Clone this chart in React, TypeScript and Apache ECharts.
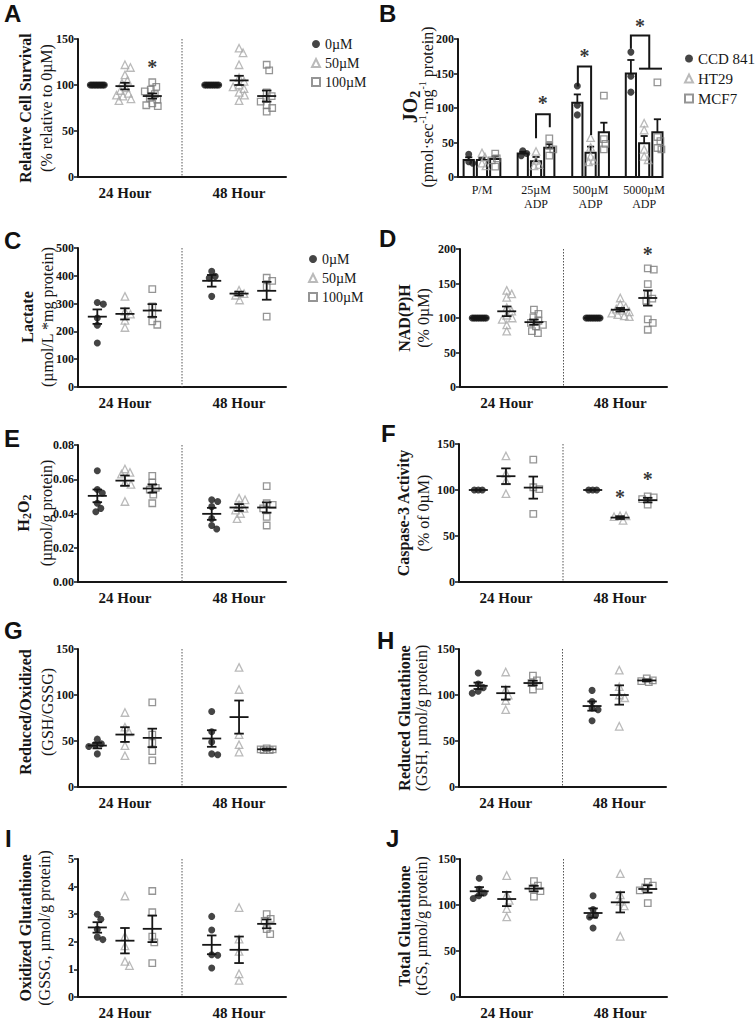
import React, { useEffect, useRef } from "react";
import * as echarts from "echarts";

const SERIF = "Liberation Serif, Times New Roman, serif";
const SANS = "Liberation Sans, Arial, sans-serif";
const INK = "#161616";

const DOSES = ["0µM", "50µM", "100µM"];
const TIMES = ["24 Hour", "48 Hour"];
const CELLS = ["CCD 841", "HT29", "MCF7"];
const B_LABELS = ["P/M", "25µM\nADP", "500µM\nADP", "5000µM\nADP"];

// ---------- Panel A : relative cell survival ----------
const A_24H = [
  [100, 100, 100, 100, 100, 100, 100, 100, 100, 100],
  [122, 119, 111, 105, 102, 97, 94, 91, 89, 88, 85, 83],
  [103, 98, 95, 93, 90, 86, 84, 80, 78, 77],
];
const A_48H = [
  [100, 100, 100, 100, 100, 100, 100, 100, 100],
  [140, 135, 122, 108, 104, 100, 98, 96, 92, 89, 83],
  [122, 116, 92, 88, 85, 82, 78, 75, 71],
];
const A_MEAN = [100, 98.8, 88, 100, 105, 88];
const A_SEM = [0, 3.6, 2.8, 0, 5, 6];
const A_STARS = [[2.5, 123]];

// ---------- Panel B : JO2 ----------
const B_CCD = [[33, 22, 20], [38, 34, 31], [132, 104, 90], [181, 146, 123]];
const B_HT29 = [[35, 29, 20, 16], [37, 24, 18, 16], [57, 43, 30, 24, 22], [78, 68, 40, 30, 25]];
const B_MCF7 = [[34, 27, 24, 15], [56, 45, 40, 31], [118, 55, 48, 40], [137, 58, 52, 42, 40]];
const B_MEAN = [[24.6, 24.6, 26], [34, 23, 42.5], [107.7, 35, 64.7], [150, 48.8, 64.7]];
const B_SEM = [[4, 3, 4], [2.5, 6, 5], [12, 9, 14], [19.6, 10.6, 19]];
const B_BRACKETS = [
  [1.53, 1.8, 91, 56, 72],
  [2.35, 2.61, 160, 131, 61],
  [3.39, 3.75, 205, 186, 157],
];
const B_CROSSBAR = [[3.55, 4.0, 157]];
const B_STARS = [[1.66, 112], [2.48, 179], [3.57, 223]];

// ---------- Panel C : lactate ----------
const C_24H = [[304, 298, 248, 222, 158], [326, 272, 262, 240, 214], [352, 290, 266, 236, 224]];
const C_48H = [[416, 398, 392, 326], [348, 336, 330, 313], [393, 382, 360, 253]];
const C_MEAN = [253, 263, 275, 382, 336, 346];
const C_SEM = [26, 20, 23, 21, 7, 32];

// ---------- Panel D : NAD(P)H ----------
const D_24H = [
  [100, 100, 100, 100, 100, 100, 100, 100, 100],
  [140, 135, 130, 115, 110, 104, 100, 98, 90, 81],
  [112, 106, 101, 96, 93, 90, 88, 81, 78],
];
const D_48H = [
  [100, 100, 100, 100, 100, 100, 100, 100, 100],
  [129, 120, 116, 113, 111, 109, 107, 105, 103, 102],
  [172, 170, 149, 134, 128, 125, 98, 93, 83],
];
const D_MEAN = [100, 109.7, 94, 100, 112, 129];
const D_SEM = [0, 7, 3.8, 0, 2.5, 11];
const D_STARS = [[6.35, 197]];

// ---------- Panel E : H2O2 ----------
const E_24H = [
  [0.065, 0.054, 0.052, 0.046, 0.043, 0.041],
  [0.066, 0.064, 0.063, 0.058, 0.057, 0.047],
  [0.062, 0.058, 0.055, 0.054, 0.051, 0.046],
];
const E_48H = [
  [0.048, 0.047, 0.044, 0.037, 0.033, 0.031],
  [0.049, 0.048, 0.045, 0.043, 0.042, 0.04, 0.037],
  [0.056, 0.046, 0.045, 0.043, 0.038, 0.033],
];
const E_MEAN = [0.0503, 0.0592, 0.0546, 0.0398, 0.0435, 0.0435];
const E_SEM = [0.0037, 0.003, 0.0024, 0.0035, 0.002, 0.003];

// ---------- Panel F : caspase-3 ----------
const F_24H = [[100, 100, 100], [137, 118, 110, 96], [133, 103, 101, 74]];
const F_48H = [[100, 100, 100], [72, 72, 71, 67], [93, 92, 90, 84]];
const F_MEAN = [100, 115, 102.6, 100, 70, 89];
const F_SEM = [0, 8.5, 12, 0, 1.5, 2.5];
const F_STARS = [[5.42, 96], [6.35, 115]];

// ---------- Panel G : GSH/GSSG ----------
const G_24H = [[52, 47, 46, 44, 36], [81, 65, 60, 45, 34], [92, 57, 48, 39, 29]];
const G_48H = [[82, 60, 49, 36, 35], [130, 106, 57, 46, 38], [42, 41, 41, 40, 40]];
const G_MEAN = [45, 57, 53.4, 52.7, 76, 41];
const G_SEM = [3, 8, 10, 9, 18, 0.6];

// ---------- Panel H : reduced glutathione ----------
const H_24H = [[124, 112, 108, 104, 102], [125, 106, 100, 94, 84], [121, 116, 113, 110, 106]];
const H_48H = [[105, 93, 86, 84, 72], [127, 109, 100, 97, 66], [118, 116, 115, 114]];
const H_MEAN = [110, 102, 113, 88, 100, 115.8];
const H_SEM = [3.5, 7, 2.5, 5, 10.5, 1];

// ---------- Panel I : oxidized glutathione ----------
const I_24H = [[3.0, 2.82, 2.45, 2.17, 2.08], [3.66, 2.2, 1.85, 1.29, 1.14], [3.84, 3.07, 2.19, 1.98, 1.23]];
const I_48H = [[2.92, 2.43, 1.53, 1.51, 1.05], [3.24, 2.1, 1.65, 0.84, 0.6], [3.0, 2.83, 2.76, 2.46, 2.28]];
const I_MEAN = [2.52, 2.04, 2.47, 1.89, 1.71, 2.65];
const I_SEM = [0.19, 0.46, 0.48, 0.34, 0.48, 0.16];

// ---------- Panel J : total glutathione ----------
const J_24H = [[129, 117, 113, 110, 107], [132, 111, 105, 96, 87], [126, 121, 118, 115, 109]];
const J_48H = [[110, 95, 89, 87, 75], [134, 111, 104, 99, 66], [125, 121, 119, 116, 102]];
const J_MEAN = [114.9, 106.5, 117.8, 91.3, 102.9, 117.4];
const J_SEM = [4.5, 7.7, 3, 5, 11, 4];

// ---------- positions on the x scales ----------
const GROUP_X = [0.65, 1.58, 2.5, 4.5, 5.42, 6.35];
const TIME_X = [1.58, 5.42];
const DIVIDER_X = 3.5;
const X_MAX = 7;
const B_GROUP_X = [0.47, 1.53, 2.6, 3.65];
const B_BAR_STEP = 0.26;
const B_X_MAX = 4;

const MEAN_HALF = 0.32;
const CAP_HALF = 0.16;
const BAR_HALF = 0.1;
const B_CAP_HALF = 0.07;

const MARKERS: any[] = [
  { symbol: "circle", symbolSize: 7, itemStyle: { color: INK } },
  { symbol: "triangle", symbolSize: 7.5, itemStyle: { color: "rgba(255,255,255,0)", borderColor: "#a9a9a9", borderWidth: 1.3 } },
  { symbol: "rect", symbolSize: 6.5, itemStyle: { color: "rgba(255,255,255,0)", borderColor: "#7b7b7b", borderWidth: 1.3 } },
];

const DOT_PANELS: any[] = [
  { key: "A", grid: { left: 78, top: 39, width: 208, height: 138 }, v24: A_24H, v48: A_48H, mean: A_MEAN, sem: A_SEM, max: 150, step: 50, stars: A_STARS, dec: 0 },
  { key: "C", grid: { left: 78, top: 248, width: 208, height: 139 }, v24: C_24H, v48: C_48H, mean: C_MEAN, sem: C_SEM, max: 500, step: 100, stars: [], dec: 0 },
  { key: "D", grid: { left: 460, top: 249, width: 207, height: 138 }, v24: D_24H, v48: D_48H, mean: D_MEAN, sem: D_SEM, max: 200, step: 50, stars: D_STARS, dec: 0 },
  { key: "E", grid: { left: 78, top: 445, width: 208, height: 137 }, v24: E_24H, v48: E_48H, mean: E_MEAN, sem: E_SEM, max: 0.08, step: 0.02, stars: [], dec: 2 },
  { key: "F", grid: { left: 459, top: 444, width: 208, height: 138 }, v24: F_24H, v48: F_48H, mean: F_MEAN, sem: F_SEM, max: 150, step: 50, stars: F_STARS, dec: 0 },
  { key: "G", grid: { left: 78, top: 649, width: 208, height: 138 }, v24: G_24H, v48: G_48H, mean: G_MEAN, sem: G_SEM, max: 150, step: 50, stars: [], dec: 0 },
  { key: "H", grid: { left: 459, top: 649, width: 207, height: 138 }, v24: H_24H, v48: H_48H, mean: H_MEAN, sem: H_SEM, max: 150, step: 50, stars: [], dec: 0 },
  { key: "I", grid: { left: 78, top: 859, width: 208, height: 138 }, v24: I_24H, v48: I_48H, mean: I_MEAN, sem: I_SEM, max: 5, step: 1, stars: [], dec: 0 },
  { key: "J", grid: { left: 460, top: 859, width: 207, height: 138 }, v24: J_24H, v48: J_48H, mean: J_MEAN, sem: J_SEM, max: 150, step: 50, stars: [], dec: 0 },
];
const B_GRID = { left: 458, top: 39, width: 204, height: 138 };

const LETTERS = ["A", "B", "C", "D", "E", "F", "G", "H", "I", "J"];
const LETTER_POS = [[4, 1], [379, 1], [4, 228], [379, 226], [4, 426], [381, 421], [4, 618], [377, 628], [5, 826], [386, 826]];
const TITLE_BOLD = [
  "Relative Cell Survival", "JO{sub|2}", "Lactate", "NAD(P)H", "H{sub|2}O{sub|2}",
  "Caspase-3 Activity", "Reduced/Oxidized", "Reduced Glutathione", "Oxidized Glutathione", "Total Glutathione",
];
const TITLE_REG = [
  "(% relative to 0µM)", "(pmol·sec{sup|-1}·mg{sup|-1} protein)", "(µmol/L *mg protein)", "(% 0µM)", "(µmol/g protein)",
  "(% of 0µM)", "(GSH/GSSG)", "(GSH, µmol/g protein)", "(GSSG, µmol/g protein)", "(tGS, µmol/g protein)",
];
const TITLE_POS = [
  [25, 46, 108], [410, 427, 107], [27, 47, 317], [404, 423, 318], [23, 46, 513],
  [403, 423, 513], [25, 47, 712], [404, 421, 718], [25, 44, 928], [404, 421, 926],
];

function swarm(values: number[], pxX: number, pxY: number, dia: number, maxPx: number): number[] {
  const n = values.length;
  if (values.every((v) => v === values[0])) {
    const half = Math.min(7, (n - 1) * 2);
    return values.map((_, i) => (n === 1 ? 0 : (-half + (2 * half * i) / (n - 1)) / pxX));
  }
  const placed: { x: number; y: number }[] = [];
  const out: number[] = [];
  for (const v of values) {
    const y = v * pxY;
    let best = 0;
    let bestD = -1;
    for (let step = 0; step <= maxPx * 4; step++) {
      const cand = step === 0 ? 0 : (step % 2 ? 1 : -1) * Math.ceil(step / 2) * 0.5;
      let minD = Infinity;
      for (const p of placed) minD = Math.min(minD, Math.hypot(p.x - cand, p.y - y));
      if (minD >= dia) {
        best = cand;
        break;
      }
      if (minD > bestD) {
        bestD = minD;
        best = cand;
      }
    }
    placed.push({ x: best, y });
    out.push(best / pxX);
  }
  return out;
}

const lineStyle = { stroke: INK, lineWidth: 1.8 };

function meanRender(params: any, api: any) {
  const x = api.value(0);
  const m = api.value(1);
  const s = api.value(2);
  const c = api.coord([x, m]);
  const pL = api.coord([x - MEAN_HALF, m]);
  const pR = api.coord([x + MEAN_HALF, m]);
  const cap = api.coord([x + CAP_HALF, m])[0] - c[0];
  const children: any[] = [{ type: "line", shape: { x1: pL[0], y1: pL[1], x2: pR[0], y2: pR[1] }, style: lineStyle }];
  if (s > 0) {
    const t = api.coord([x, m + s]);
    const b = api.coord([x, m - s]);
    children.push({ type: "line", shape: { x1: c[0], y1: t[1], x2: c[0], y2: b[1] }, style: lineStyle });
    children.push({ type: "line", shape: { x1: c[0] - cap, y1: t[1], x2: c[0] + cap, y2: t[1] }, style: lineStyle });
    children.push({ type: "line", shape: { x1: c[0] - cap, y1: b[1], x2: c[0] + cap, y2: b[1] }, style: lineStyle });
  }
  return { type: "group", children };
}

function barRender(params: any, api: any) {
  const x = api.value(0);
  const m = api.value(1);
  const s = api.value(2);
  const tl = api.coord([x - BAR_HALF, m]);
  const br = api.coord([x + BAR_HALF, 0]);
  const c = api.coord([x, m]);
  const t = api.coord([x, m + s]);
  const cap = api.coord([x + B_CAP_HALF, m])[0] - c[0];
  return {
    type: "group",
    children: [
      { type: "rect", shape: { x: tl[0], y: tl[1], width: br[0] - tl[0], height: br[1] - tl[1] }, style: { fill: "#ffffff", stroke: INK, lineWidth: 2 } },
      { type: "line", shape: { x1: c[0], y1: c[1], x2: c[0], y2: t[1] }, style: lineStyle },
      { type: "line", shape: { x1: c[0] - cap, y1: t[1], x2: c[0] + cap, y2: t[1] }, style: lineStyle },
    ],
  };
}

function bracketRender(params: any, api: any) {
  const xL = api.value(0), xR = api.value(1), yT = api.value(2), yL = api.value(3), yR = api.value(4);
  return {
    type: "polyline",
    shape: { points: [api.coord([xL, yL]), api.coord([xL, yT]), api.coord([xR, yT]), api.coord([xR, yR])] },
    style: { stroke: INK, lineWidth: 2, fill: null },
  };
}

function crossRender(params: any, api: any) {
  const a = api.coord([api.value(0), api.value(2)]);
  const b = api.coord([api.value(1), api.value(2)]);
  return { type: "line", shape: { x1: a[0], y1: a[1], x2: b[0], y2: b[1] }, style: { stroke: INK, lineWidth: 2 } };
}

function starSeries(idx: number, data: number[][]) {
  return {
    type: "scatter",
    xAxisIndex: idx,
    yAxisIndex: idx,
    z: 6,
    silent: true,
    clip: false,
    symbol: "circle",
    symbolSize: 0.1,
    itemStyle: { color: INK, borderColor: INK, borderWidth: 0 },
    label: {
      show: true,
      position: "inside",
      formatter: "*",
      color: "#000000",
      textBorderColor: "rgba(0,0,0,0)",
      textBorderWidth: 0,
      fontFamily: SERIF,
      fontWeight: "bold",
      fontSize: 20,
      offset: [0, 3],
    },
    data,
  };
}

function yAxisFor(i: number, max: number, step: number, dec: number) {
  return {
    gridIndex: i,
    type: "value",
    min: 0,
    max,
    interval: step,
    axisLine: { show: true, lineStyle: { color: INK, width: 2 } },
    axisTick: { show: true, length: 4, lineStyle: { color: INK, width: 1.5 } },
    splitLine: { show: false },
    axisLabel: {
      fontFamily: SERIF,
      fontWeight: "bold",
      fontSize: 12,
      color: INK,
      margin: 4,
      formatter: (v: number) => v.toFixed(dec),
    },
  };
}

const customBase = { silent: true, itemStyle: { color: INK } };

function buildOption() {
  const grid: any[] = [];
  const xAxis: any[] = [];
  const yAxis: any[] = [];
  const series: any[] = [];

  DOT_PANELS.forEach((p, i) => {
    grid.push({ ...p.grid });
    xAxis.push({
      gridIndex: i,
      type: "value",
      min: 0,
      max: X_MAX,
      axisLine: { show: true, onZero: true, lineStyle: { color: INK, width: 2 } },
      axisTick: { show: false },
      splitLine: { show: false },
      axisLabel: {
        show: true,
        customValues: TIME_X,
        formatter: (v: number) => TIMES[v < DIVIDER_X ? 0 : 1],
        fontFamily: SERIF,
        fontWeight: "bold",
        fontSize: 15,
        color: INK,
        margin: 8,
      },
    });
    yAxis.push(yAxisFor(i, p.max, p.step, p.dec));
    const pxX = p.grid.width / X_MAX;
    const pxY = p.grid.height / p.max;

    series.push({
      ...customBase,
      type: "custom",
      xAxisIndex: i,
      yAxisIndex: i,
      z: 1,
      data: [[DIVIDER_X, p.max]],
      renderItem: (params: any, api: any) => {
        const a = api.coord([api.value(0), api.value(1)]);
        const b = api.coord([api.value(0), 0]);
        return { type: "line", shape: { x1: a[0], y1: a[1], x2: b[0], y2: b[1] }, style: { stroke: "#555", lineWidth: 1, lineDash: [1.5, 1.5] } };
      },
    });

    for (let d = 0; d < 3; d++) {
      const data: number[][] = [];
      [p.v24[d], p.v48[d]].forEach((vals: number[], t: number) => {
        const gx = GROUP_X[t * 3 + d];
        const off = swarm(vals, pxX, pxY, 6, 9);
        vals.forEach((v, j) => data.push([gx + off[j], v]));
      });
      series.push({
        type: "scatter",
        name: DOSES[d],
        xAxisIndex: i,
        yAxisIndex: i,
        z: 3,
        silent: true,
        data,
        ...MARKERS[d],
      });
    }

    series.push({
      ...customBase,
      type: "custom",
      xAxisIndex: i,
      yAxisIndex: i,
      z: 5,
      data: p.mean.map((m: number, g: number) => [GROUP_X[g], m, p.sem[g]]),
      renderItem: meanRender,
    });

    if (p.stars.length) series.push(starSeries(i, p.stars));
  });

  // ---- Panel B ----
  const bi = DOT_PANELS.length;
  grid.push({ ...B_GRID });
  xAxis.push({
    gridIndex: bi,
    type: "value",
    min: 0,
    max: B_X_MAX,
    axisLine: { show: true, onZero: true, lineStyle: { color: INK, width: 2 } },
    axisTick: { show: false },
    splitLine: { show: false },
    axisLabel: {
      show: true,
      customValues: B_GROUP_X,
      formatter: (v: number) => {
        let best = 0;
        B_GROUP_X.forEach((g, k) => {
          if (Math.abs(g - v) < Math.abs(B_GROUP_X[best] - v)) best = k;
        });
        return B_LABELS[best];
      },
      fontFamily: SERIF,
      fontSize: 12,
      lineHeight: 14,
      color: INK,
      margin: 6,
    },
  });
  yAxis.push(yAxisFor(bi, 200, 50, 0));

  const barData: number[][] = [];
  B_MEAN.forEach((row, g) => row.forEach((m, k) => barData.push([B_GROUP_X[g] + (k - 1) * B_BAR_STEP, m, B_SEM[g][k]])));
  series.push({ ...customBase, type: "custom", xAxisIndex: bi, yAxisIndex: bi, z: 2, data: barData, renderItem: barRender });

  const bPxX = B_GRID.width / B_X_MAX;
  const bPxY = B_GRID.height / 200;
  [B_CCD, B_HT29, B_MCF7].forEach((cell, k) => {
    const data: number[][] = [];
    cell.forEach((vals, g) => {
      const off = swarm(vals, bPxX, bPxY, 5, 4);
      vals.forEach((v, j) => data.push([B_GROUP_X[g] + (k - 1) * B_BAR_STEP + off[j], v]));
    });
    series.push({ type: "scatter", name: CELLS[k], xAxisIndex: bi, yAxisIndex: bi, z: 3, silent: true, data, ...MARKERS[k] });
  });
  series.push({ ...customBase, type: "custom", xAxisIndex: bi, yAxisIndex: bi, z: 4, data: B_BRACKETS, renderItem: bracketRender });
  series.push({ ...customBase, type: "custom", xAxisIndex: bi, yAxisIndex: bi, z: 4, data: B_CROSSBAR, renderItem: crossRender });
  series.push(starSeries(bi, B_STARS));

  const legendBase = {
    orient: "vertical",
    itemWidth: 8,
    itemHeight: 8,
    itemGap: 5,
    padding: 0,
    selectedMode: false,
    textStyle: { fontFamily: SERIF, fontSize: 14, lineHeight: 14, color: INK },
  };
  const legend = [
    { ...legendBase, data: DOSES, left: 311, top: 37 },
    { ...legendBase, data: CELLS, left: 684, top: 51, itemGap: 5, textStyle: { fontFamily: SERIF, fontSize: 15, lineHeight: 15, color: INK } },
    { ...legendBase, data: DOSES, left: 308, top: 252 },
  ];

  const elements: any[] = [];
  LETTERS.forEach((l, i) => {
    elements.push({
      type: "text",
      x: LETTER_POS[i][0],
      y: LETTER_POS[i][1],
      style: { text: l, fontFamily: SANS, fontWeight: "bold", fontSize: 24, fill: "#111", align: "left", verticalAlign: "top" },
    });
  });
  const rich = {
    sub: { fontFamily: SERIF, fontWeight: "bold", fontSize: 12, lineHeight: 12, verticalAlign: "bottom", fill: INK },
    sup: { fontFamily: SERIF, fontSize: 10, lineHeight: 10, verticalAlign: "top", fill: INK },
  };
  TITLE_BOLD.forEach((t, i) => {
    const [bx, rx, cy] = TITLE_POS[i];
    elements.push({
      type: "text",
      x: bx,
      y: cy,
      rotation: Math.PI / 2,
      style: {
        text: t,
        fontFamily: SERIF,
        fontWeight: "bold",
        fontSize: i === 1 ? 20 : 16,
        lineHeight: i === 1 ? 24 : 20,
        fill: INK,
        align: "center",
        verticalAlign: "middle",
        rich: i === 1 ? { sub: { ...rich.sub, fontSize: 14, lineHeight: 14 } } : rich,
      },
    });
    elements.push({
      type: "text",
      x: rx,
      y: cy,
      rotation: Math.PI / 2,
      style: {
        text: TITLE_REG[i],
        fontFamily: SERIF,
        fontSize: 16,
        lineHeight: 20,
        fill: INK,
        align: "center",
        verticalAlign: "middle",
        rich,
      },
    });
  });

  return {
    animation: false,
    backgroundColor: "#ffffff",
    grid,
    xAxis,
    yAxis,
    series,
    legend,
    graphic: { elements },
  };
}

export default function App() {
  const ref = useRef<HTMLDivElement>(null);
  useEffect(() => {
    if (!ref.current) return;
    const chart = echarts.init(ref.current, null, { renderer: "svg" });
    chart.setOption(buildOption() as any);
    return () => chart.dispose();
  }, []);
  return (
    <div
      ref={ref}
      style={{ position: "absolute", left: 0, top: 0, width: 755, height: 1023, background: "#fff" }}
    />
  );
}
